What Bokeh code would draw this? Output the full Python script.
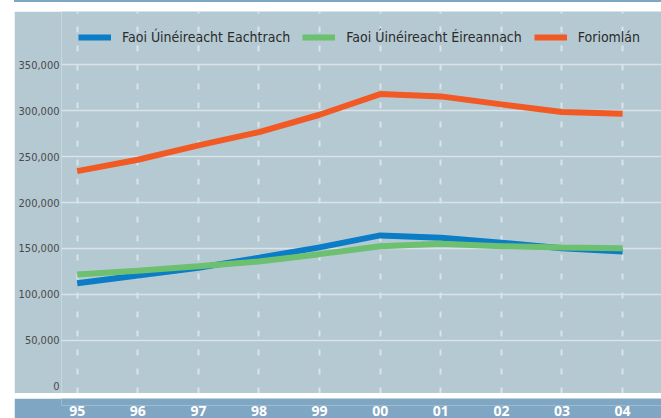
from bokeh.plotting import figure
from bokeh.models import Range1d, FixedTicker, Legend, LegendItem, NumeralTickFormatter, Div
from bokeh.layouts import column
from bokeh.embed import file_html
from bokeh.resources import INLINE

years = ["95", "96", "97", "98", "99", "00", "01", "02", "03", "04"]
foreign = [112200, 120600, 129000, 139900, 151200, 164200, 161700, 156200, 150300, 146700]
irish = [121700, 125700, 130700, 135800, 143800, 152500, 155100, 152500, 151100, 150300]
total = [234200, 246600, 262200, 276700, 295600, 318100, 315600, 306900, 298500, 296700]
series_names = ["Faoi Úinéireacht Eachtrach", "Faoi Úinéireacht Éireannach", "Foriomlán"]
y_ticks = [0, 50000, 100000, 150000, 200000, 250000, 300000, 350000]

PANEL = "#b5c9d2"
BAND = "#7fa6c2"
COLORS = ["#0b7cc6", "#6cc070", "#f15a24"]
FONT = "DejaVu Sans Condensed"

xs = list(range(len(years)))
x_range = Range1d(-0.259, 9.642)

top = Div(width=647, height=2, margin=(0, 0, 0, 14), styles={"background-color": BAND})

# frame height 382: 0 at 374.7 px from top, 350,000 at 53.3 px from top
p = figure(width=647, height=382, x_range=x_range, y_range=Range1d(-7950, 408044),
           output_backend="svg", toolbar_location=None,
           min_border_left=47, min_border_right=0, min_border_top=0, min_border_bottom=0)
p.margin = (9, 0, 0, 14)
p.background_fill_color = PANEL
p.border_fill_color = PANEL
p.outline_line_color = None
p.xaxis.visible = False

p.yaxis.ticker = FixedTicker(ticks=y_ticks)
p.yaxis.formatter = NumeralTickFormatter(format="0,0")
p.yaxis.axis_line_color = None
p.yaxis.major_tick_line_color = None
p.yaxis.minor_tick_line_color = None
p.yaxis.major_tick_out = 0
p.yaxis.major_tick_in = 0
p.yaxis.minor_tick_out = 0
p.yaxis.minor_tick_in = 0
p.yaxis.major_label_standoff = 2
p.yaxis.major_label_text_font = FONT
p.yaxis.major_label_text_font_size = "11px"
p.yaxis.major_label_text_color = "#4a4a4a"

p.ygrid.ticker = FixedTicker(ticks=y_ticks[1:])
p.ygrid.grid_line_color = "#d9e3e8"
p.ygrid.grid_line_width = 1.5
p.xgrid.ticker = FixedTicker(ticks=xs)
p.xgrid.grid_line_color = "#dae4e9"
p.xgrid.grid_line_width = 2
p.xgrid.grid_line_dash = "6 13"

renderers = []
for vals, col in zip([foreign, irish, total], COLORS):
    r = p.line(xs, vals, line_color=col, line_width=6)
    renderers.append(r)

legend = Legend(items=[LegendItem(label=n, renderers=[r]) for n, r in zip(series_names, renderers)],
                orientation="horizontal", location=(17, 346))
legend.background_fill_alpha = 0
legend.border_line_color = None
legend.padding = 0
legend.margin = 0
legend.spacing = 12
legend.glyph_width = 33
legend.glyph_height = 20
legend.label_height = 20
legend.label_standoff = 11
legend.label_text_font = FONT
legend.label_text_font_size = "14px"
legend.label_text_color = "#2b2b2b"
p.add_layout(legend, "center")

b = figure(width=647, height=20, x_range=x_range, y_range=Range1d(0, 1),
           output_backend="svg", toolbar_location=None,
           min_border_left=47, min_border_right=0, min_border_top=0, min_border_bottom=0)
b.margin = (5, 0, 0, 14)
b.background_fill_color = BAND
b.border_fill_color = BAND
b.outline_line_color = None
b.yaxis.visible = False
b.grid.visible = False
b.xaxis.ticker = FixedTicker(ticks=xs)
b.xaxis.major_label_overrides = {i: y for i, y in enumerate(years)}
b.xaxis.axis_line_color = None
b.xaxis.major_tick_line_color = None
b.xaxis.minor_tick_line_color = None
b.xaxis.major_tick_out = 0
b.xaxis.major_tick_in = 0
b.xaxis.minor_tick_out = 0
b.xaxis.minor_tick_in = 0
b.xaxis.major_label_standoff = 0
b.xaxis.major_label_text_font = "Open Sans"
b.xaxis.major_label_text_font_style = "bold"
b.xaxis.major_label_text_font_size = "14px"
b.xaxis.major_label_text_color = "white"

layout = column(top, p, b, spacing=0)
open("out.html", "w").write(file_html(layout, INLINE))
